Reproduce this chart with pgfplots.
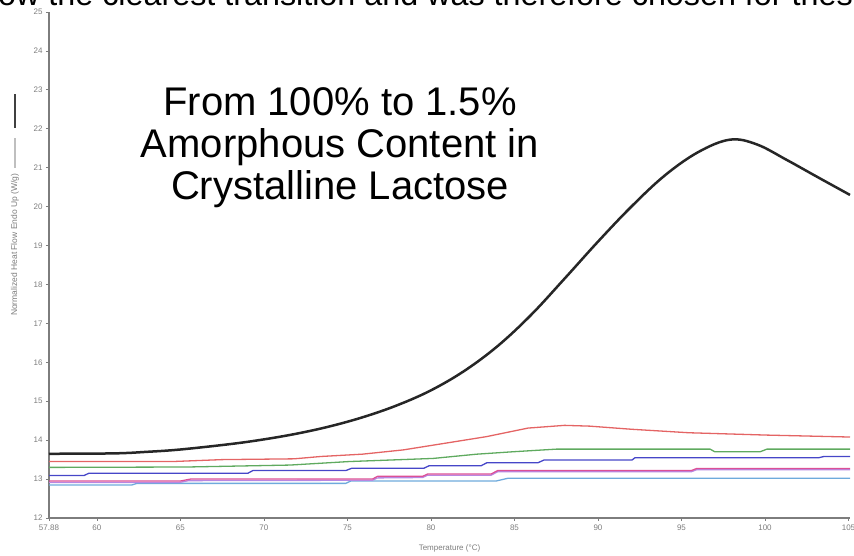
\documentclass[border=0pt]{standalone}
\usepackage{pgfplots}
\pgfplotsset{compat=1.18}
\usepackage{fontspec}
\setmainfont{Liberation Sans}
\definecolor{axgray}{RGB}{125,125,125}
\definecolor{cred}{RGB}{228,100,100}
\definecolor{cgreen}{RGB}{95,170,95}
\definecolor{cblue}{RGB}{70,70,200}
\definecolor{cpink}{RGB}{220,80,150}
\definecolor{clav}{RGB}{185,135,225}
\definecolor{ccyan}{RGB}{110,170,220}
\begin{document}
\begin{tikzpicture}[x=1pt,y=1pt]
\node[anchor=base west, font=\fontsize{32.3}{36}\selectfont, inner sep=0pt] at (-2,550) {ow the clearest transition and was therefore chosen for thes};
\begin{axis}[
  at={(49pt,38pt)}, anchor=south west,
  scale only axis, width=801pt, height=506pt,
  xmin=57.13, xmax=105.09, ymin=12, ymax=25,
  axis lines*=left,
  axis line style={axgray, line width=1.2pt},
  xtick={57.13,60,65,70,75,80,85,90,95,100,105},
  xticklabels={57.88,60,65,70,75,80,85,90,95,100,105},
  ytick={12,13,...,25},
  /pgf/number format/assume math mode=true,
  tick label style={font=\fontsize{8}{9}\selectfont, text=axgray},
  tick align=outside, major tick length=3pt,
  tick style={axgray, line width=0.8pt},
  xlabel={Temperature (°C)},
  xlabel style={font=\fontsize{8}{9}\selectfont, text=axgray, at={(axis description cs:0.5,-0.06)}, anchor=center},
  ylabel={Normalized Heat Flow Endo Up (W/g)\hspace{6pt}{\color{lightgray}\rule[0.3ex]{30pt}{1.5pt}}\hspace{10pt}{\color{darkgray}\rule[0.3ex]{34pt}{2pt}}},
  ylabel style={font=\fontsize{8.5}{9}\selectfont, text=axgray, at={(axis description cs:-0.0424,0.619)}, anchor=center},
  clip=false,
]
% light blue
\addplot[ccyan, line width=1.3pt] coordinates {(57.13,12.85) (62.1,12.85) (62.4,12.89) (74.9,12.89) (75.2,12.95) (83.9,12.95) (84.6,13.02) (105.09,13.02)};
% lavender
\addplot[clav, line width=1.3pt] coordinates {(57.13,12.91) (64.9,12.91) (65.5,12.96) (76.5,12.97) (76.8,13.03) (79.5,13.04) (79.8,13.10) (83.6,13.10) (84.0,13.19) (95.6,13.19) (95.9,13.24) (105.09,13.24)};
% pink
\addplot[cpink, line width=1.3pt] coordinates {(57.13,12.95) (65.0,12.95) (65.6,13.0) (76.5,13.0) (76.8,13.07) (79.5,13.07) (79.8,13.13) (83.6,13.13) (84.0,13.22) (95.6,13.22) (95.9,13.27) (105.09,13.27)};
% blue
\addplot[cblue, line width=1.3pt] coordinates {(57.13,13.09) (59.22,13.09) (59.52,13.15) (69.04,13.15) (69.34,13.22) (74.91,13.22) (75.27,13.28) (79.58,13.28) (79.88,13.34) (82.99,13.34) (83.35,13.42) (86.41,13.42) (86.77,13.49) (92.04,13.49) (92.22,13.55) (103.23,13.55) (103.53,13.58) (105.09,13.58)};
% green
\addplot[cgreen, line width=1.3pt] coordinates {(57.13,13.30) (65.39,13.31) (71.56,13.36) (75.09,13.45) (80.12,13.53) (82.75,13.64) (84.85,13.70) (87.54,13.77) (96.71,13.77) (97.0,13.70) (99.7,13.70) (100.12,13.77) (105.09,13.77)};
% red
\addplot[cred, line width=1.3pt] coordinates {(57.13,13.45) (64.5,13.45) (67.5,13.50) (71.8,13.52) (73.4,13.58) (75.9,13.64) (78.35,13.75) (80.84,13.92) (83.32,14.09) (85.81,14.31) (88.0,14.38) (89.5,14.36) (92.0,14.28) (95.45,14.19) (100.1,14.13) (105.09,14.08)};
% black
\addplot[black!85, line width=2.5pt, smooth, tension=0.6] coordinates {(57.13,13.65) (61,13.66) (63,13.70) (65,13.76) (68,13.90) (70,14.02) (72,14.17) (74,14.36) (76,14.60) (78,14.90) (80,15.28) (82,15.78) (84,16.42) (86,17.22) (88,18.15) (90,19.10) (92,20.0) (94,20.80) (96,21.40) (97.9,21.72) (99.5,21.6) (101.3,21.2) (103.1,20.77) (105.09,20.30)};
\end{axis}
\node[align=center, font=\fontsize{40}{42}\selectfont, inner sep=0pt] at (340,408) {From 100\% to 1.5\%\\Amorphous Content in\\Crystalline Lactose};
\pgfresetboundingbox
\useasboundingbox (0,0) rectangle (854,556);
\end{tikzpicture}
\end{document}
